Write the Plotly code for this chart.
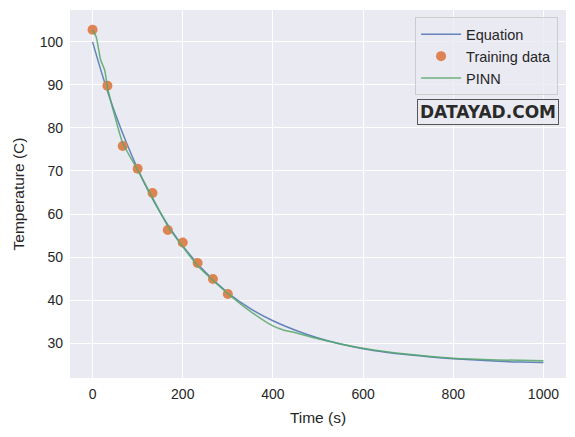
import plotly.graph_objects as go

# Equation curve
eq_t = [0, 25, 50, 75, 100, 125, 150, 175, 200, 250, 300, 350, 400, 450, 500, 550, 600, 650, 700, 750, 800, 850, 900, 950, 1000]
eq_T = [100.0, 91.2, 83.4, 76.6, 70.5, 65.1, 60.4, 56.2, 52.6, 46.5, 41.7, 38.0, 35.2, 33.0, 31.2, 29.8, 28.7, 27.9, 27.3, 26.8, 26.4, 26.1, 25.8, 25.6, 25.5]

# Training data points
tr_t = [0, 33, 67, 100, 133, 167, 200, 233, 267, 300]
tr_T = [102.8, 89.8, 75.8, 70.5, 64.9, 56.3, 53.4, 48.6, 44.9, 41.4]

# PINN prediction
pinn_t = [0, 8, 18, 27, 33, 50, 67, 100, 133, 167, 200, 233, 267, 300, 350, 400, 425, 450, 500, 550, 600, 700, 800, 900, 1000]
pinn_T = [102.7, 101.2, 95.8, 93.4, 89.5, 82.5, 76.5, 70.2, 63.8, 57.2, 52.4, 48.0, 44.6, 41.5, 37.4, 34.0, 33.0, 32.4, 31.0, 29.8, 28.8, 27.4, 26.5, 26.1, 25.9]

x_ticks = [0, 200, 400, 600, 800, 1000]
y_ticks = [30, 40, 50, 60, 70, 80, 90, 100]

fig = go.Figure()
fig.add_trace(go.Scatter(x=eq_t, y=eq_T, mode="lines", name="Equation",
                         line=dict(color="#4C72B0", width=1.5, shape="spline"), opacity=0.85))
fig.add_trace(go.Scatter(x=tr_t, y=tr_T, mode="markers", name="Training data",
                         marker=dict(color="#DD8452", size=10)))
fig.add_trace(go.Scatter(x=pinn_t, y=pinn_T, mode="lines", name="PINN",
                         line=dict(color="#55A868", width=1.5, shape="spline", smoothing=0.6), opacity=0.85))

font = "Liberation Sans, Arial, sans-serif"
fig.update_layout(
    width=575, height=437,
    margin=dict(l=70, r=9, t=10, b=59),
    paper_bgcolor="white", plot_bgcolor="#EAEAF2",
    font=dict(family=font, size=14, color="#262626"),
    showlegend=True,
    legend=dict(x=0.984, y=0.98, xanchor="right", yanchor="top",
                bgcolor="rgba(234,234,242,0.8)", bordercolor="#CCCCCC", borderwidth=1,
                font=dict(size=14.5), itemwidth=40, tracegroupgap=0),
    xaxis=dict(range=[-50, 1050], tickvals=x_ticks, showgrid=True, gridcolor="white",
               gridwidth=1, zeroline=False, showline=False, ticks="",
               tickfont=dict(size=14), ticklabelstandoff=6,
               title=dict(text="Time (s)", font=dict(size=15.5), standoff=11)),
    yaxis=dict(range=[21.9, 107.4], tickvals=y_ticks, showgrid=True, gridcolor="white",
               gridwidth=1, zeroline=False, showline=False, ticks="",
               tickfont=dict(size=14), ticklabelstandoff=6,
               title=dict(text="Temperature (C)", font=dict(size=15.5), standoff=11)),
    annotations=[dict(x=0.986, y=0.722, xref="paper", yref="paper", xanchor="right", yanchor="middle",
                      text="<b>DATAYAD.COM</b>", showarrow=False,
                      font=dict(family="DejaVu Sans, sans-serif", size=17, color="#2a2a2a"),
                      bordercolor="#555555", borderwidth=1, borderpad=2, bgcolor="#EAEAF2")],
)

fig.write_html("out.html")
